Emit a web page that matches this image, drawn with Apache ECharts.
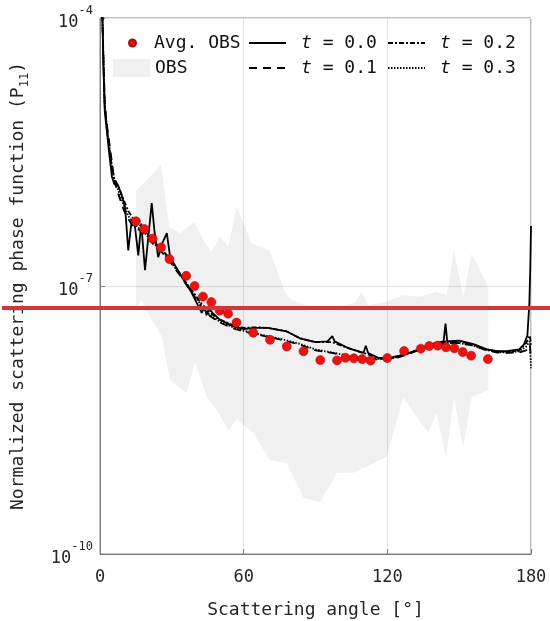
<!DOCTYPE html>
<html><head><meta charset="utf-8">
<script src="https://cdn.jsdelivr.net/npm/echarts@6/dist/echarts.min.js"></script>
<style>html,body{margin:0;padding:0;background:#fff}#c{width:550px;height:621px}</style>
</head><body><div id="c"></div>
<script>
// ---------- data ----------
const xTicks = [0, 60, 120, 180];
const yTicks = [1e-10, 1e-7, 1e-4];

// Average observations (red dots)
const avgAngle = [15, 18.5, 22, 25.5, 29, 36, 39.5, 43, 46.5, 50, 53.5, 57, 64, 71, 78, 85, 92, 99, 102.5, 106, 109.5, 113, 120, 127, 134, 137.5, 141, 144.5, 148, 151.5, 155, 162];
const avgVal = [5.3e-7, 4.35e-7, 3.4e-7, 2.7e-7, 2.0e-7, 1.3e-7, 1.0e-7, 7.6e-8, 6.6e-8, 5.3e-8, 4.9e-8, 3.9e-8, 3.0e-8, 2.5e-8, 2.1e-8, 1.86e-8, 1.48e-8, 1.47e-8, 1.57e-8, 1.55e-8, 1.52e-8, 1.46e-8, 1.56e-8, 1.87e-8, 1.99e-8, 2.13e-8, 2.15e-8, 2.06e-8, 2.01e-8, 1.82e-8, 1.66e-8, 1.52e-8];

// OBS envelope (grey band)
const obsUpAngle = [15.0, 25.5, 28.9, 33.4, 39.4, 43.1, 46.6, 50.1, 53.6, 57.1, 63.4, 71.0, 77.3, 80.1, 86.3, 91.9, 100.2, 106.5, 109.3, 112.1, 119.7, 126.7, 133.6, 140.6, 144.8, 147.8, 151.7, 155.2, 161.5, 162.2];
const obsUpVal = [1.16e-6, 2.26e-6, 4.6e-7, 3.9e-7, 5.2e-7, 3.3e-7, 2.4e-7, 3.6e-7, 2.75e-7, 7.7e-7, 3.0e-7, 2.5e-7, 8.4e-8, 7.0e-8, 6.1e-8, 5.4e-8, 5.9e-8, 6.5e-8, 8.6e-8, 6.1e-8, 6.7e-8, 7.9e-8, 7.6e-8, 8.6e-8, 7.9e-8, 2.5e-7, 7.6e-8, 2.3e-7, 1.07e-7, 9.0e-8];
const obsLoAngle = [15.0, 17.4, 20.9, 25.8, 29.2, 36.2, 39.7, 44.6, 48.7, 53.6, 57.1, 64.0, 71.0, 78.0, 84.9, 91.9, 98.9, 105.8, 110.0, 119.7, 126.7, 137.1, 140.6, 144.5, 147.8, 151.7, 155.2, 162.2];
const obsLoVal = [5.4e-8, 7.0e-8, 4.5e-8, 2.7e-8, 8.9e-9, 6.3e-9, 1.41e-8, 5.7e-9, 4.1e-9, 2.44e-9, 3.2e-9, 2.26e-9, 1.13e-9, 1.04e-9, 4.3e-10, 3.8e-10, 8.1e-10, 8.1e-10, 9.2e-10, 1.22e-9, 5.7e-9, 2.26e-9, 3.8e-9, 1.19e-9, 5.7e-9, 1.53e-9, 5.7e-9, 6.9e-9];

// t = 0.0 (solid)
const t00Angle = [0, 0.5, 1, 1.5, 2, 3, 4, 5, 6, 7.5, 9, 10.5, 11.8, 13.3, 14.6, 16, 17.2, 18.8, 21.6, 22.8, 24.3, 26, 27.9, 29.3, 31, 35, 38, 41, 42.5, 43.5, 44.5, 45.5, 47, 50, 55, 60, 65, 70, 78, 83.5, 90, 95, 97, 98, 104, 110, 111, 112, 116, 120, 125, 130, 136, 140, 143.5, 144.3, 145, 150, 156, 161.5, 166, 170, 175, 177, 178.5, 179.3, 179.7, 180];
const t00Val = [1e-3, 3.2e-4, 1e-4, 2.5e-5, 8.9e-6, 5.0e-6, 2.8e-6, 1.66e-6, 1.38e-6, 1.35e-6, 1.05e-6, 7.5e-7, 2.5e-7, 5.6e-7, 4.6e-7, 2.2e-7, 5.0e-7, 1.5e-7, 8.5e-7, 4.0e-7, 2.1e-7, 3.0e-7, 3.9e-7, 2.1e-7, 1.75e-7, 1.17e-7, 8.7e-8, 6.0e-8, 5.0e-8, 6.0e-8, 4.7e-8, 5.6e-8, 5.0e-8, 4.2e-8, 3.6e-8, 3.3e-8, 3.4e-8, 3.4e-8, 3.1e-8, 2.6e-8, 2.35e-8, 2.4e-8, 2.75e-8, 2.4e-8, 2.0e-8, 1.78e-8, 2.14e-8, 1.78e-8, 1.58e-8, 1.55e-8, 1.66e-8, 1.82e-8, 2.1e-8, 2.3e-8, 2.4e-8, 3.8e-8, 2.4e-8, 2.45e-8, 2.24e-8, 1.95e-8, 1.86e-8, 1.86e-8, 1.95e-8, 2.2e-8, 2.8e-8, 6.3e-8, 1.6e-7, 4.7e-7];

// t = 0.1 (dashed)
const t01Angle = [0, 0.5, 1, 1.5, 2, 3, 4, 5, 6, 8, 10, 12, 14, 16, 18, 20, 22, 25, 28, 31, 34, 37, 40, 43, 46, 50, 55, 60, 65, 70, 77, 83.5, 90, 97, 104, 111, 120, 125, 130, 136, 140, 145, 150, 156, 161.5, 166, 170, 175, 178, 179.5, 180];
const t01Val = [1e-3, 3.5e-4, 1.1e-4, 3e-5, 1.1e-5, 6e-6, 3.8e-6, 2.4e-6, 1.5e-6, 1.0e-6, 7e-7, 5.5e-7, 4.6e-7, 4.3e-7, 4e-7, 3.4e-7, 3e-7, 2.5e-7, 2.1e-7, 1.6e-7, 1.25e-7, 9.5e-8, 7.2e-8, 5.5e-8, 4.6e-8, 3.9e-8, 3.4e-8, 3.1e-8, 2.9e-8, 2.7e-8, 2.45e-8, 2.2e-8, 1.9e-8, 1.78e-8, 1.62e-8, 1.52e-8, 1.5e-8, 1.6e-8, 1.78e-8, 2.05e-8, 2.2e-8, 2.3e-8, 2.3e-8, 2.15e-8, 1.9e-8, 1.8e-8, 1.78e-8, 1.8e-8, 1.9e-8, 2.2e-8, 1.5e-8];

// t = 0.2 (dash-dot)
const t02Angle = [0, 0.5, 1, 1.5, 2, 3, 4, 5, 6, 8, 10, 12, 14, 16, 18, 20, 22, 25, 28, 31, 34, 37, 40, 43, 46, 50, 55, 60, 65, 70, 78, 83.5, 90, 97, 104, 111, 116, 120, 125, 130, 136, 140, 145, 150, 156, 161.5, 166, 170, 175, 178, 179.5, 180];
const t02Val = [1e-3, 3.3e-4, 1.05e-4, 2.8e-5, 1e-5, 5.5e-6, 3.2e-6, 2.1e-6, 1.6e-6, 1.25e-6, 9e-7, 6.8e-7, 5.6e-7, 5e-7, 4.4e-7, 3.8e-7, 3.3e-7, 2.7e-7, 2.2e-7, 1.7e-7, 1.3e-7, 1e-7, 7.8e-8, 6e-8, 5e-8, 4.2e-8, 3.7e-8, 3.4e-8, 3.45e-8, 3.4e-8, 3.1e-8, 2.6e-8, 2.35e-8, 2.35e-8, 2e-8, 1.75e-8, 1.55e-8, 1.52e-8, 1.62e-8, 1.8e-8, 2.1e-8, 2.3e-8, 2.4e-8, 2.4e-8, 2.2e-8, 1.95e-8, 1.85e-8, 1.82e-8, 1.9e-8, 2.3e-8, 2.8e-8, 2.2e-8];

// t = 0.3 (dotted)
const t03Angle = [0, 0.5, 1, 1.5, 2, 3, 4, 5, 6, 8, 10, 12, 14, 16, 18, 20, 22, 25, 28, 31, 34, 37, 40, 43, 46, 50, 55, 60, 65, 70, 77, 83.5, 90, 97, 104, 111, 120, 125, 130, 136, 140, 145, 150, 156, 161.5, 166, 170, 175, 178, 179.5, 180];
const t03Val = [1e-3, 3.4e-4, 1.05e-4, 2.9e-5, 1.05e-5, 5.8e-6, 3.5e-6, 2.2e-6, 1.55e-6, 1.1e-6, 8e-7, 6e-7, 5e-7, 4.5e-7, 4.1e-7, 3.6e-7, 3.1e-7, 2.55e-7, 2.1e-7, 1.65e-7, 1.28e-7, 9.8e-8, 7.4e-8, 5.7e-8, 4.7e-8, 4e-8, 3.5e-8, 3.15e-8, 2.95e-8, 2.75e-8, 2.5e-8, 2.25e-8, 1.95e-8, 1.8e-8, 1.65e-8, 1.54e-8, 1.52e-8, 1.62e-8, 1.8e-8, 2.05e-8, 2.2e-8, 2.3e-8, 2.3e-8, 2.15e-8, 1.92e-8, 1.82e-8, 1.8e-8, 1.85e-8, 2.1e-8, 2.4e-8, 1.2e-8];

// ---------- chart ----------
const FONT = 'DejaVu Sans Mono';
const TXT = '#262626';
const zip = (a, b) => a.map((x, i) => [x, b[i]]);

const lineSeries = (name, ang, val, type) => ({
  name, type: 'line', data: zip(ang, val), showSymbol: false, symbol: 'none',
  clip: true, z: 3, animation: false,
  lineStyle: { color: '#000', width: 1.8, type },
  itemStyle: { color: '#000' }
});

const legendText = {
  fontFamily: FONT, fontSize: 18, color: '#111', lineHeight: 22,
  rich: { g: { width: 10 }, i: { fontStyle: 'italic', fontFamily: FONT, fontSize: 18 } }
};
const tFmt = n => '{g|}{i|t}' + n.slice(1);
const hiddenSymbol = { color: 'rgba(0,0,0,0)', borderWidth: 0, opacity: 0 };

const option = {
  animation: false,
  backgroundColor: '#fff',
  grid: { left: 100, right: 19, top: 18, bottom: 67, show: true, borderColor: '#808080', borderWidth: 1,
    containLabel: false, outerBoundsMode: 'none' },
  xAxis: {
    type: 'value', min: 0, max: 180, interval: 60,
    name: 'Scattering angle [°]', nameLocation: 'middle', nameGap: 47,
    nameTextStyle: { fontFamily: FONT, fontSize: 18, color: TXT },
    axisLine: { show: true, lineStyle: { color: '#808080' } },
    axisTick: { show: true, inside: true, length: 5, lineStyle: { color: '#808080' } },
    axisLabel: { fontFamily: FONT, fontSize: 17, color: TXT, margin: 15 },
    splitLine: { show: true, lineStyle: { color: '#e3e3e3', width: 1 } }
  },
  yAxis: {
    type: 'log', logBase: 10, min: 1e-10, max: 1e-4,
    name: 'Normalized scattering phase function (P{s|11})', nameLocation: 'middle', nameGap: 69,
    nameTextStyle: { fontFamily: FONT, fontSize: 18, color: TXT, lineHeight: 26,
      rich: { s: { fontFamily: FONT, fontSize: 12, verticalAlign: 'bottom', lineHeight: 12 } } },
    axisLine: { show: true, lineStyle: { color: '#808080' } },
    axisTick: { show: true, inside: true, length: 5, customValues: yTicks, lineStyle: { color: '#808080' } },
    axisLabel: {
      customValues: yTicks, margin: 7, fontFamily: FONT, fontSize: 17, color: TXT,
      formatter: v => '{b|10}{s|' + Math.round(Math.log10(v)) + '}',
      rich: {
        b: { fontFamily: FONT, fontSize: 17, color: TXT, lineHeight: 26, verticalAlign: 'bottom' },
        s: { fontFamily: FONT, fontSize: 12, color: TXT, lineHeight: 12, verticalAlign: 'top' }
      }
    },
    splitLine: { show: true, lineStyle: { color: '#e3e3e3', width: 1 } }
  },
  legend: [
    { data: [{ name: 'Avg. OBS', icon: 'circle' }], left: 128, top: 32, padding: 0, itemWidth: 7, itemHeight: 7,
      formatter: n => '{g|}' + n,
      textStyle: { fontFamily: FONT, fontSize: 18, color: '#111', lineHeight: 22, rich: { g: { width: 13 } } },
      selectedMode: false },
    { data: [{ name: 'OBS', icon: 'rect' }], left: 113, top: 59, padding: 0, itemWidth: 37, itemHeight: 18,
      textStyle: { fontFamily: FONT, fontSize: 18, color: '#111', lineHeight: 18 }, selectedMode: false },
    { data: ['t = 0.0', 't = 0.1'], orient: 'vertical', left: 248, top: 32, padding: 0, itemWidth: 37, itemHeight: 10,
      itemGap: 3, formatter: tFmt, textStyle: legendText, itemStyle: hiddenSymbol, selectedMode: false },
    { data: ['t = 0.2', 't = 0.3'], orient: 'vertical', left: 387, top: 32, padding: 0, itemWidth: 37, itemHeight: 10,
      itemGap: 3, formatter: tFmt, textStyle: legendText, itemStyle: hiddenSymbol, selectedMode: false }
  ],
  series: [
    {
      name: 'OBS', type: 'custom', z: 1, data: [[0, 1e-7]],
      itemStyle: { color: '#f0f0f0' },
      renderItem: (params, api) => {
        const pts = [];
        for (let i = 0; i < obsUpAngle.length; i++) pts.push(api.coord([obsUpAngle[i], obsUpVal[i]]));
        for (let i = obsLoAngle.length - 1; i >= 0; i--) pts.push(api.coord([obsLoAngle[i], obsLoVal[i]]));
        return { type: 'polygon', shape: { points: pts }, style: { fill: 'rgba(0,0,0,0.058)' } };
      }
    },
    lineSeries('t = 0.0', t00Angle, t00Val, 'solid'),
    lineSeries('t = 0.1', t01Angle, t01Val, [8, 6]),
    lineSeries('t = 0.2', t02Angle, t02Val, [5, 2, 2, 2]),
    lineSeries('t = 0.3', t03Angle, t03Val, [1.5, 1.5]),
    {
      name: 'Avg. OBS', type: 'scatter', data: zip(avgAngle, avgVal), symbol: 'circle', symbolSize: 9, z: 5,
      itemStyle: { color: '#f01010', opacity: 1, borderColor: '#a01010', borderWidth: 0.6 }
    }
  ],
  graphic: [
    { type: 'rect', z: 100, shape: { x: 2, y: 306, width: 548, height: 4 }, style: { fill: '#d0363c' } }
  ]
};
const chart = echarts.init(document.getElementById('c'));
chart.setOption(option);
</script></body></html>
